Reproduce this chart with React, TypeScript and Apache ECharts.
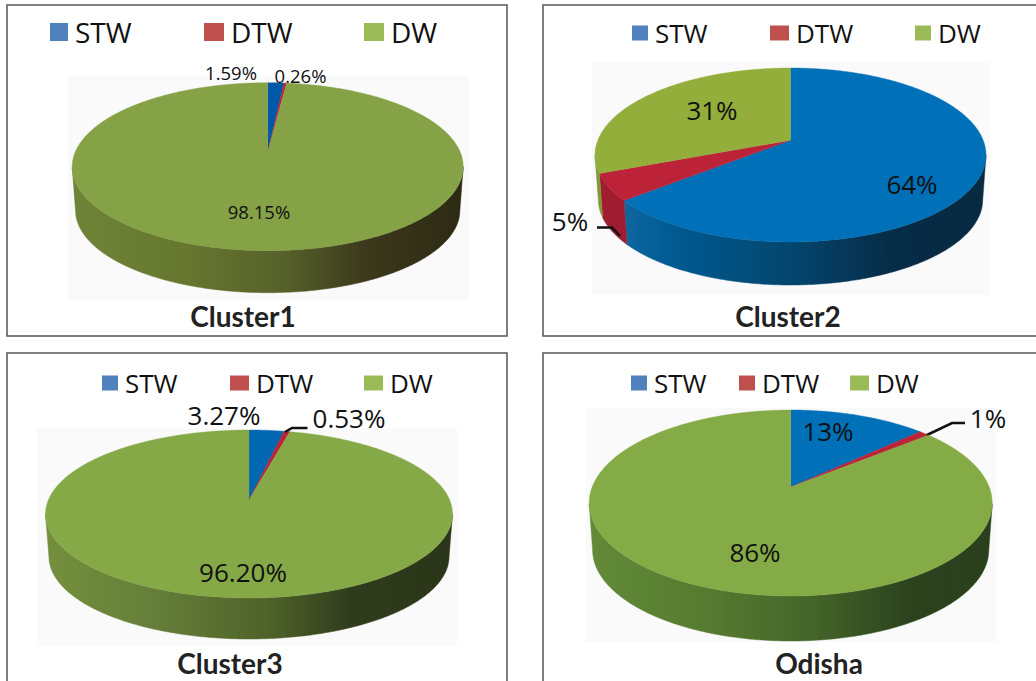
import React, { useEffect, useRef } from "react";
import * as echarts from "echarts";

const sliceNames = ["STW", "DTW", "DW"];
const cluster1Values = [1.59, 0.26, 98.15];
const cluster2Values = [64, 5, 31];
const cluster3Values = [3.27, 0.53, 96.2];
const odishaValues = [13, 1, 86];
const panelTitles = ["Cluster1", "Cluster2", "Cluster3", "Odisha"];
const panelDecimals = [2, 0, 2, 0];

const FONT = "'Open Sans', sans-serif";
const legendColors = ["#4f81bd", "#c0504d", "#9bbb59"];

type Stops = [number, string][];
const panels = [
  {
    values: cluster1Values, cx: 267.7, cy: 166.7, rx: 195.5, ry: 84, e: 0.175, depth: 42,
    box: [7, 5, 500, 331], back: [68, 76, 401, 224],
    top: ["#0058a8", "#bc2238", "#85a246"],
    side: [
      [[0, "#0058a8"], [1, "#0058a8"]],
      [[0, "#a01c30"], [1, "#a01c30"]],
      [[0, "#6f8438"], [0.3, "#66762f"], [0.55, "#56602a"], [0.75, "#3b381b"], [1, "#2c2a14"]],
    ] as Stops[],
    titleAt: [243, 302], titleSize: 28,
    legendTop: 22, legendH: 18, legendSize: 28,
    legendX: [50, 204, 364], legendW: [18, 20, 20],
    labels: [[231, 72], [300.5, 75], [259, 211]], labelSize: 18.5,
    leader: null,
  },
  {
    values: cluster2Values, cx: 790.5, cy: 155, rx: 195.5, ry: 87, e: 0.17, depth: 43,
    box: [543, 5, 520, 331], back: [592, 61, 398, 234],
    top: ["#0071b8", "#bc2238", "#93ae3b"],
    side: [
      [[0, "#1a6fa8"], [0.2, "#005a92"], [0.5, "#03466e"], [0.75, "#072c48"], [1, "#072a40"]],
      [[0, "#a01c30"], [1, "#a01c30"]],
      [[0, "#7f9a35"], [1, "#7f9a35"]],
    ] as Stops[],
    titleAt: [788, 302], titleSize: 28,
    legendTop: 24, legendH: 15, legendSize: 26,
    legendX: [632, 770, 915], legendW: [16, 19, 16],
    labels: [[912, 184], [570, 221], [712, 110]], labelSize: 26,
    leader: { from: 1, points: [[597, 227.5], [612, 227.5], [620, 236]] },
  },
  {
    values: cluster3Values, cx: 249, cy: 514, rx: 203.5, ry: 84, e: 0.167, depth: 41,
    box: [7, 353, 500, 340], back: [37, 428, 420, 218],
    top: ["#0068b0", "#bc2238", "#85a947"],
    side: [
      [[0, "#0068b0"], [1, "#0068b0"]],
      [[0, "#a01c30"], [1, "#a01c30"]],
      [[0, "#748f3c"], [0.25, "#66803a"], [0.55, "#4f6229"], [0.75, "#2f3c1c"], [1, "#2b3519"]],
    ] as Stops[],
    titleAt: [230, 649], titleSize: 28,
    legendTop: 374, legendH: 15, legendSize: 26,
    legendX: [102, 230, 364], legendW: [16, 19, 19],
    labels: [[224, 415], [349, 418], [243, 572]], labelSize: 26,
    leader: { from: 1, points: [[307.5, 428], [292, 428], [285, 432]] },
  },
  {
    values: odishaValues, cx: 790.7, cy: 503, rx: 201.5, ry: 93, e: 0.172, depth: 45,
    box: [543, 353, 520, 340], back: [586, 408, 410, 234],
    top: ["#0070b8", "#bc2238", "#85ab47"],
    side: [
      [[0, "#0070b8"], [1, "#0070b8"]],
      [[0, "#a01c30"], [1, "#a01c30"]],
      [[0, "#628a38"], [0.3, "#567a30"], [0.55, "#456529"], [0.8, "#2b421d"], [1, "#2a3f1c"]],
    ] as Stops[],
    titleAt: [819, 649], titleSize: 28,
    legendTop: 374, legendH: 15, legendSize: 26,
    legendX: [631, 739, 850], legendW: [16, 16, 19],
    labels: [[828, 431], [988, 418], [755, 552]], labelSize: 26,
    leader: { from: 1, points: [[965, 423], [952, 423], [927, 435]] },
  },
];

// A slice's share of the circle, projected onto the tilted disc (perspective keeps the
// apex above the ellipse's centre, so equal angles are not equal on the ellipse).
function project(theta: number, e: number) {
  const x = Math.sin(theta);
  const y = Math.cos(theta);
  const den = 1 + e * y;
  return [(x * Math.sqrt(1 - e * e)) / den, (y + e) / den];
}

function sliceItem(panel: any, index: number, value: number, startPct: number, decimals: number) {
  const { cx, cy, rx, ry, e, depth } = panel;
  const start = (startPct / 100) * Math.PI * 2;
  const end = ((startPct + value) / 100) * Math.PI * 2;
  const steps = Math.max(2, Math.ceil(((end - start) * 180) / Math.PI / 0.5));
  const unit: number[][] = [];
  for (let i = 0; i <= steps; i++) unit.push(project(start + ((end - start) * i) / steps, e));

  const rxB = rx * 0.983;
  const ryB = ry * 0.98;
  const cyB = cy + depth + (ry - ryB);
  const topArc = unit.map(([u, v]) => [cx + rx * u, cy - ry * v]);
  const apex = [cx, cy - ry * e];
  const front = unit.filter(([, v]) => v <= 0);
  const children: any[] = [];
  if (front.length > 1) {
    const upper = front.map(([u, v]) => [cx + rx * u, cy - ry * v]);
    const lower = front.map(([u, v]) => [cx + rxB * u, cyB - ryB * v]).reverse();
    const fill = {
      type: "linear", global: true, x: cx - rx, y: 0, x2: cx + rx, y2: 0,
      colorStops: panel.side[index].map(([offset, color]: [number, string]) => ({ offset, color })),
    };
    children.push({
      type: "polygon",
      shape: { points: upper.concat(lower) },
      style: { fill, stroke: fill, lineWidth: 0.5 },
    });
  }
  children.push({
    type: "polygon",
    shape: { points: [apex].concat(topArc) },
    style: { fill: panel.top[index], stroke: panel.top[index], lineWidth: 0.4 },
  });
  if (panel.leader && panel.leader.from === index) {
    children.push({
      type: "polyline",
      shape: { points: panel.leader.points },
      style: { fill: "none", stroke: "#111", lineWidth: 2.5 },
    });
  }
  const [lx, ly] = panel.labels[index];
  children.push({
    type: "text",
    x: lx, y: ly,
    style: {
      text: `${value.toFixed(decimals)}%`,
      fill: "#111",
      font: `${panel.labelSize}px ${FONT}`,
      align: "center",
      verticalAlign: "middle",
    },
  });
  return { type: "group", children };
}

function buildOption() {
  const series: any[] = [];
  panels.forEach((panel, p) => {
    let running = 0;
    panel.values.forEach((value, i) => {
      const startPct = running;
      running += value;
      series.push({
        type: "custom",
        name: sliceNames[i],
        coordinateSystem: "none",
        silent: true,
        z: 3,
        data: [[value]],
        renderItem: (_: any, api: any) => sliceItem(panel, i, api.value(0), startPct, panelDecimals[p]),
      });
    });
  });
  const legend = panels.flatMap((panel) =>
    sliceNames.map((name, i) => ({
      left: panel.legendX[i],
      top: panel.legendTop - 4,
      padding: 0,
      itemWidth: panel.legendW[i],
      itemHeight: panel.legendH,
      selectedMode: false,
      icon: "rect",
      textStyle: { fontFamily: FONT, fontSize: panel.legendSize, color: "#111", padding: [0, 0, 0, 2] },
      data: [{ name, itemStyle: { color: legendColors[i] } }],
    }))
  );
  const title = panels.map((panel, p) => ({
    text: panelTitles[p],
    left: panel.titleAt[0],
    top: panel.titleAt[1],
    padding: 0,
    textAlign: "center",
    textStyle: { fontFamily: "Lato, sans-serif", fontWeight: 700, fontSize: panel.titleSize, color: "#222" },
  }));
  const elements = panels.flatMap((panel) => [
    {
      type: "rect", z: -10,
      shape: { x: panel.box[0], y: panel.box[1], width: panel.box[2], height: panel.box[3] },
      style: { fill: "#fff", stroke: "#555", lineWidth: 1.5 },
    },
    {
      type: "rect", z: -9,
      shape: { x: panel.back[0], y: panel.back[1], width: panel.back[2], height: panel.back[3] },
      style: { fill: "#fafafa" },
    },
  ]);
  return { animation: false, backgroundColor: "#fff", series, legend, title, graphic: { elements } };
}

export default function App() {
  const ref = useRef<HTMLDivElement>(null);
  useEffect(() => {
    document.body.style.margin = "0";
    const chart = echarts.init(ref.current!, undefined, { renderer: "svg" });
    chart.setOption(buildOption() as any);
    return () => chart.dispose();
  }, []);
  return <div ref={ref} style={{ width: 1036, height: 681 }} />;
}
